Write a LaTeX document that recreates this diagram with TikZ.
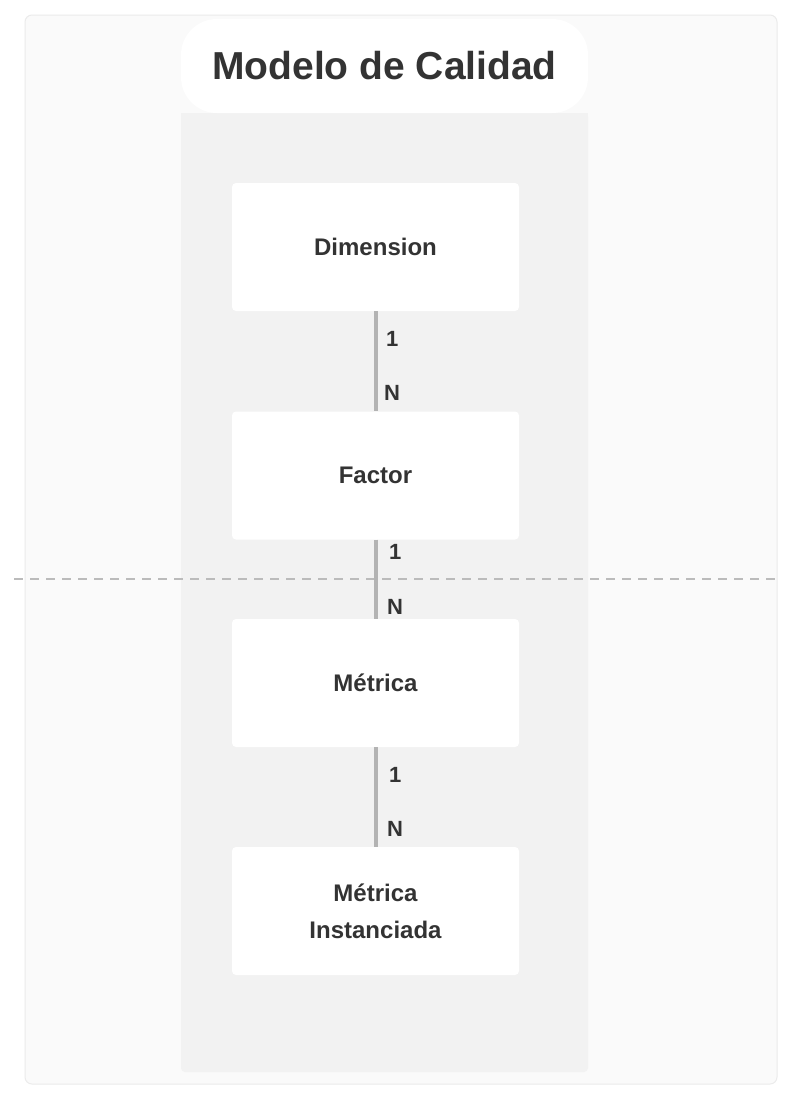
\documentclass[tikz,border=0pt]{standalone}
\usepackage{fontspec}
\setmainfont{Liberation Sans}
\definecolor{outerfill}{HTML}{FAFAFA}
\definecolor{outerline}{HTML}{EBEBEB}
\definecolor{colfill}{HTML}{F2F2F2}
\definecolor{txt}{HTML}{333333}
\definecolor{conn}{HTML}{B3B3B3}
\definecolor{sepgray}{HTML}{BBBBBB}
\tikzset{
  entity/.style={fill=white, rounded corners=4pt, minimum width=287pt, minimum height=128pt,
    inner sep=0pt, align=center, text=txt, font=\fontsize{24}{37}\selectfont\bfseries},
  rel/.style={draw=conn, line width=4pt},
  card/.style={text=txt, font=\fontsize{22}{24}\selectfont\bfseries, anchor=west, inner sep=0pt}
}
\begin{document}
\begin{tikzpicture}[x=1pt,y=-1pt]
\useasboundingbox (0,0) rectangle (804,1104);
\fill[white] (0,0) rectangle (804,1104);
% outer frame
\draw[fill=outerfill, draw=outerline, line width=1pt, rounded corners=7pt] (25,15) rectangle (777,1084);
% column
\fill[colfill, rounded corners=4pt] (181,113) rectangle (588,1072);
\fill[colfill] (181,113) rectangle (588,130);
% title
\node[fill=white, rounded corners=36pt, minimum width=407pt, minimum height=94pt, inner sep=0pt,
  text=txt, font=\fontsize{39}{44}\selectfont\bfseries] (title) at (384.5,66) {Modelo de Calidad};
% entities
\node[entity] (dim) at (375.5,247) {Dimension};
\node[entity] (fac) at (375.5,475.5) {Factor};
\node[entity] (met) at (375.5,683) {Métrica};
\node[entity] (mi) at (375.5,911) {Métrica\\Instanciada};
% dashed separator
\coordinate (dl) at (14,579);
\coordinate (dr) at (780,579);
\draw[sepgray, line width=2pt, dash pattern=on 9pt off 7pt] (dl) -- (dr);
% connectors
\draw[rel] (dim.south -| 376,0) -- (fac.north -| 376,0);
\draw[rel] (fac.south -| 376,0) -- (met.north -| 376,0);
\draw[rel] (met.south -| 376,0) -- (mi.north -| 376,0);
% cardinalities
\node[card] (c1a) at (386,339) {1};
\node[card] (c1b) at (384,393) {N};
\node[card] (c2a) at (389,552) {1};
\node[card] (c2b) at (387,607) {N};
\node[card] (c3a) at (389,775) {1};
\node[card] (c3b) at (387,829) {N};
\end{tikzpicture}
\end{document}
